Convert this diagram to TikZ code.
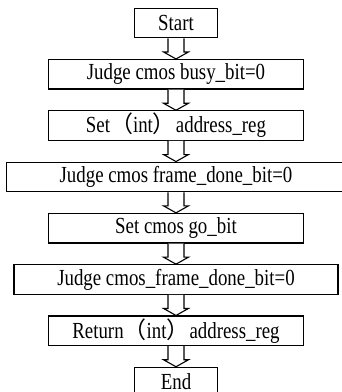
\documentclass[tikz,border=0pt]{standalone}
\usepackage{fontspec}
\setmainfont{Liberation Serif}[FakeStretch=0.82]
\newfontfamily\cjk{Noto Sans CJK SC}
\usetikzlibrary{positioning, calc}

% hollow block arrow from the bottom of one box to the top of the next
\newcommand{\flowarrow}[2]{%
  \draw[hollowarrow] ($(#1.south)+(-8,0)$) -- ($(#2.north)+(-8,7)$) -- ($(#2.north)+(-12.5,7)$)
    -- (#2.north) -- ($(#2.north)+(12.5,7)$) -- ($(#2.north)+(8,7)$) -- ($(#1.south)+(8,0)$);}

\begin{document}
\begin{tikzpicture}[x=1pt, y=1pt,
        stepbox/.style={draw, rectangle, line width=1.2pt, minimum height=29.5pt, inner sep=0pt, font=\fontsize{23}{27}\selectfont},
        hollowarrow/.style={draw, line width=1.1pt, fill=white}
    ]
        \useasboundingbox (0,0) rectangle (342,-392);

        % Steps
        \node[stepbox, minimum width=83pt] (start) at (176,-23) {Start};
        \node[stepbox, minimum width=255pt, below=20.6pt of start] (busy) {Judge cmos busy\_bit=0};
        \node[stepbox, minimum width=255pt, below=20.6pt of busy] (setaddr) {Set{\cjk （}int{\cjk ）}address\_reg};
        \node[stepbox, minimum width=339pt, below=20.6pt of setaddr] (frame1) {Judge cmos frame\_done\_bit=0};
        \node[stepbox, minimum width=255pt, below=20.6pt of frame1] (go) {Set cmos go\_bit};
        \node[stepbox, minimum width=324pt, below=20.6pt of go] (frame2) {Judge cmos\_frame\_done\_bit=0};
        \node[stepbox, minimum width=255pt, below=20.6pt of frame2] (ret) {Return{\cjk （}int{\cjk ）}address\_reg};
        \node[stepbox, minimum width=83pt, below=20.6pt of ret] (end) {End};

        % Arrows
        \flowarrow{start}{busy}
        \flowarrow{busy}{setaddr}
        \flowarrow{setaddr}{frame1}
        \flowarrow{frame1}{go}
        \flowarrow{go}{frame2}
        \flowarrow{frame2}{ret}
        \flowarrow{ret}{end}

    \end{tikzpicture}
\end{document}
